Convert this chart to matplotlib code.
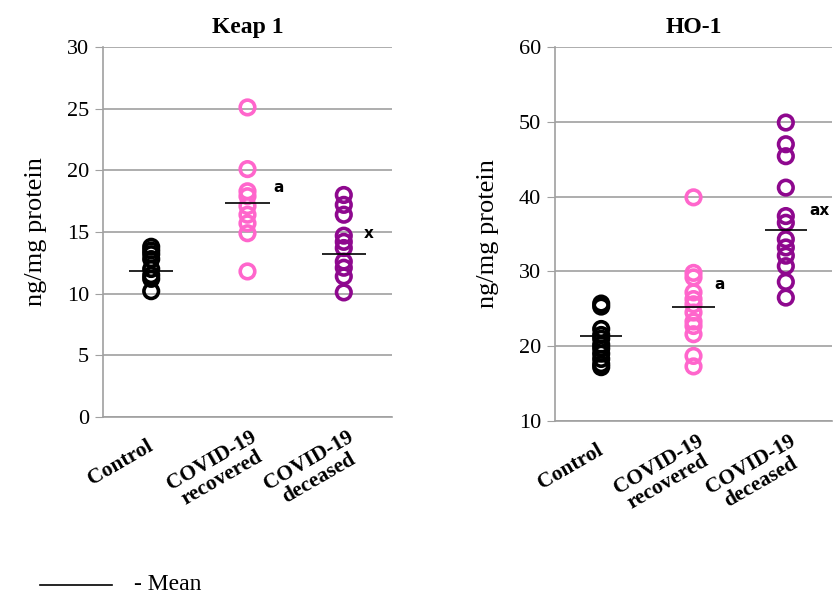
import numpy as np
import matplotlib
matplotlib.use("Agg")
import matplotlib.pyplot as plt
import matplotlib.transforms as mtransforms

plt.rcParams['font.family'] = ['Liberation Serif', 'DejaVu Serif']

# datos
grupos = ["Control", "COVID-19\nrecovered", "COVID-19\ndeceased"]
colores = ["#000000", "#FF66CC", "#8E088E"]

keap_control = [13.8, 13.5, 13.2, 12.8, 12.0, 11.5, 11.2, 10.2]
keap_recovered = [25.1, 20.1, 18.3, 17.9, 17.1, 16.4, 15.7, 14.9, 11.8]
keap_deceased = [18.0, 17.2, 16.4, 14.7, 14.2, 13.7, 12.6, 12.1, 11.4, 10.1]
keap_medias = [11.8, 17.35, 13.2]
keap_letras = ["", "a", "x"]
keap_letras_y = [0, 18.6, 14.9]
keap_letras_dx = [0, 0.27, 0.21]

ho_control = [25.7, 25.3, 22.3, 21.5, 21.0, 20.2, 19.7, 19.0, 18.3, 17.6, 17.2]
ho_recovered = [39.9, 29.8, 29.2, 27.2, 26.3, 25.6, 24.5, 23.3, 22.7, 21.6, 18.7, 17.3]
ho_deceased = [49.9, 47.0, 45.4, 41.2, 37.4, 36.5, 34.3, 33.2, 32.1, 30.7, 28.6, 26.5]
ho_medias = [21.3, 25.2, 35.6]
ho_letras = ["", "a", "ax"]
ho_letras_y = [0, 28.3, 38.2]
ho_letras_dx = [0, 0.23, 0.25]

fig = plt.figure(figsize=(8.35, 6.01), dpi=100)
ax1 = fig.add_axes([0.1234, 0.3062, 0.346, 0.6156])
ax2 = fig.add_axes([0.6647, 0.2995, 0.3317, 0.6223])


def panel(ax, datos, medias, letras, letras_y, letras_dx, ylim, paso, titulo):
    x = np.arange(1, 4)
    for i, vals in enumerate(datos):
        ax.scatter(np.full(len(vals), x[i]), vals, s=110, facecolors='none',
                   edgecolors=colores[i], linewidths=2.6, zorder=3)
        ax.hlines(medias[i], x[i] - 0.23, x[i] + 0.23, color='black',
                  linewidth=1.2, zorder=4)
        if letras[i]:
            ax.text(x[i] + letras_dx[i], letras_y[i], letras[i], fontfamily='DejaVu Sans',
                    fontweight='bold', fontsize=11, va='center', ha='left')
    ax.set_xlim(0.5, 3.5)
    ax.set_ylim(*ylim)
    ax.set_yticks(np.arange(ylim[0], ylim[1] + 1, paso))
    ax.yaxis.grid(True, color='#A0A0A0', linewidth=1.2)
    ax.set_axisbelow(True)
    for s in ['top', 'right']:
        ax.spines[s].set_visible(False)
    for s in ['left', 'bottom']:
        ax.spines[s].set_color('#A0A0A0')
        ax.spines[s].set_linewidth(1.2)
    ax.tick_params(axis='y', length=6, color='#A0A0A0', labelsize=16, pad=4)
    ax.tick_params(axis='x', length=0, pad=20)
    ax.set_xticks(x)
    etiquetas = ax.set_xticklabels(grupos, rotation=30, ha='right', va='center',
                                   rotation_mode='anchor', fontweight='bold', fontsize=15.5,
                                   multialignment='center', linespacing=1.0)
    # las etiquetas de dos lineas van un poco mas a la derecha
    for et in etiquetas[1:]:
        et.set_transform(et.get_transform() +
                         mtransforms.ScaledTranslation(0.13, 0, fig.dpi_scale_trans))
    ax.set_ylabel("ng/mg protein", fontsize=19, labelpad=14)
    ax.set_title(titulo, fontweight='bold', fontsize=17, pad=10)


panel(ax1, [keap_control, keap_recovered, keap_deceased], keap_medias,
      keap_letras, keap_letras_y, keap_letras_dx, (0, 30), 5, "Keap 1")
panel(ax2, [ho_control, ho_recovered, ho_deceased], ho_medias,
      ho_letras, ho_letras_y, ho_letras_dx, (10, 60), 10, "HO-1")

# leyenda de la media
fig.add_artist(plt.Line2D([0.048, 0.134], [0.027, 0.027], color='black', linewidth=1.2))
fig.text(0.16, 0.027, "- Mean", fontsize=17, va='center', ha='left')

fig.savefig("out.png", dpi=100)
